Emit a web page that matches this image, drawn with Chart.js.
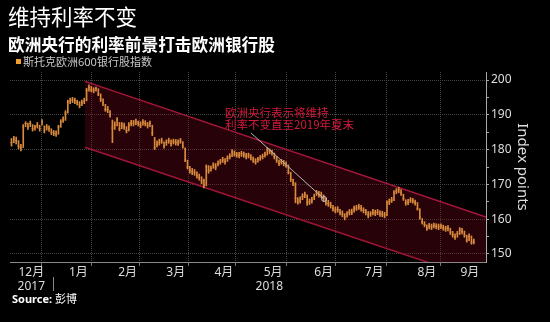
<!DOCTYPE html>
<html><head><meta charset="utf-8">
<script src="https://cdn.jsdelivr.net/npm/chart.js@4.4.1/dist/chart.umd.min.js"></script>
<style>
html,body{margin:0;padding:0;background:#000;}
#wrap{position:relative;width:550px;height:322px;background:#000;overflow:hidden;font-family:"Noto Sans","Noto Sans CJK SC",sans-serif;}
#c{position:absolute;left:0;top:0;}
.t1{position:absolute;left:8px;top:3px;font-size:21.5px;line-height:26px;color:#fff;font-family:"Noto Sans CJK SC",sans-serif;white-space:nowrap;}
.t2{position:absolute;left:8px;top:34px;font-size:16.7px;line-height:20px;color:#fff;font-weight:bold;font-family:"Noto Sans CJK SC",sans-serif;white-space:nowrap;}
.lg{position:absolute;left:23px;top:55px;font-size:11px;line-height:14px;color:#c8c8c8;white-space:nowrap;}
.sq{position:absolute;left:16px;top:59px;width:5px;height:5px;background:#f0a030;}
.src{position:absolute;left:12px;top:292px;font-size:11px;line-height:14px;color:#fff;white-space:nowrap;}
.src b{font-weight:bold;}
</style></head>
<body>
<div id="wrap">
<canvas id="c" width="550" height="322"></canvas>
<div class="t1">维持利率不变</div>
<div class="t2">欧洲央行的利率前景打击欧洲银行股</div>
<div class="sq"></div><div class="lg">斯托克欧洲600银行股指数</div>
<div class="src"><b>Source:</b> 彭博</div>
</div>
<script>
// Trading-day index of the first session of each month (Dec 2017 starts at index 0)
const monthStarts = [18, 40, 60, 81, 101, 123, 144, 166, 189];
const monthLabels = ['12月','1月','2月','3月','4月','5月','6月','7月','8月','9月'];
const yearLabels = ['2017', '2018'];
const yTicks = [150,155,160,165,170,175,180,185,190,195,200];

const closes = [
182.0,183.0,182.5,181.0,180.5,186.5,187.5,186.5,187.5,186.0,186.5,187.0,186.0,188.0,185.6,186.5,186.0,185.0,
184.8,184.5,186.5,188.0,188.5,190.5,193.7,194.0,194.3,194.0,193.5,192.8,193.5,194.0,197.0,197.8,197.2,197.0,197.5,196.0,194.5,193.4,
191.5,191.5,190.0,186.2,187.0,188.5,186.0,187.0,186.5,185.5,187.0,187.6,187.6,188.0,187.5,187.0,187.8,187.5,187.0,187.5,
184.8,180.5,181.5,182.0,182.5,181.0,182.0,182.5,181.8,182.3,182.0,182.0,182.5,181.0,177.0,175.0,174.0,173.6,173.3,172.5,172.0,
171.0,169.8,175.0,174.0,174.5,175.5,175.0,176.0,176.5,177.0,176.5,177.5,178.0,179.3,178.8,178.5,178.4,178.8,178.5,178.0,
178.4,177.8,177.0,176.5,177.2,177.6,178.0,178.5,179.9,179.5,179.0,178.0,177.0,176.0,176.5,176.0,175.6,173.5,171.5,170.4,166.0,165.0,
165.5,166.5,167.0,164.7,165.0,165.5,166.5,167.5,167.0,167.0,166.0,164.7,164.5,164.0,163.0,162.6,162.8,162.0,161.5,160.6,161.5,
162.0,162.0,163.0,163.2,163.5,163.0,162.5,162.0,161.2,161.5,162.0,161.8,162.0,161.5,161.5,161.2,164.7,165.0,165.5,167.5,168.0,168.4,
167.5,166.0,164.7,165.0,165.5,165.2,164.7,163.0,160.6,159.2,158.5,157.5,158.0,157.8,158.2,158.0,157.8,158.0,157.5,157.2,157.5,156.3,155.5,
154.9,155.8,156.9,156.5,155.5,154.0,155.0,153.4,153.5
];
const highs = [
183.2,183.8,183.6,182.6,181.5,187.2,188.0,187.6,188.2,187.2,187.0,187.8,187.0,188.6,186.8,187.2,186.8,186.0,
185.5,185.4,187.0,188.6,189.4,191.2,194.2,194.8,195.0,194.8,194.2,193.8,194.2,194.8,197.6,198.6,198.2,197.8,198.0,197.5,196.0,194.6,
193.0,192.4,191.2,188.5,188.0,189.2,187.8,187.8,187.6,186.6,187.8,188.4,188.4,188.8,188.2,188.0,188.6,188.3,187.8,188.2,
187.0,183.5,182.5,183.0,183.3,182.2,182.8,183.3,182.8,183.0,182.9,182.8,183.2,182.3,180.5,177.0,175.2,174.6,174.3,173.6,173.0,
172.2,171.5,175.6,175.4,175.3,176.2,176.0,176.8,177.2,177.8,177.4,178.2,178.8,180.0,179.6,179.2,179.2,179.5,179.3,178.9,
179.0,178.6,177.9,177.4,177.8,178.3,178.7,179.3,180.6,180.2,179.8,179.0,178.0,177.0,177.2,176.9,176.5,175.6,173.5,171.5,170.5,166.2,
166.4,167.3,167.8,167.0,165.8,166.3,167.2,168.3,168.0,167.8,167.0,166.0,165.4,164.9,164.0,163.5,163.6,162.8,162.4,161.6,162.2,
162.8,162.9,163.8,164.0,164.3,164.0,163.3,162.8,162.2,162.2,162.8,162.6,162.8,162.4,162.3,162.0,165.3,165.8,166.3,168.2,168.8,169.2,
168.5,167.2,165.6,165.7,166.2,166.0,165.5,164.8,163.0,160.2,159.3,158.4,158.8,158.6,158.9,158.7,158.6,158.7,158.3,158.0,158.2,157.4,156.5,
155.8,156.5,157.6,157.4,156.6,155.4,155.8,155.2,154.3
];
const lows = [
181.0,182.0,181.6,180.2,179.6,180.6,186.6,185.8,186.6,185.3,185.6,186.2,185.3,187.0,184.8,185.6,185.2,184.3,
184.0,183.8,184.4,186.4,187.8,188.4,190.5,193.2,193.5,193.2,192.8,192.0,192.6,193.2,194.0,196.8,196.6,196.3,196.8,195.5,193.8,192.6,
191.0,190.6,189.3,182.0,185.8,186.8,185.4,186.0,185.8,184.8,185.4,186.8,186.8,187.2,186.8,186.3,187.0,186.8,186.2,186.6,
184.0,180.0,180.8,181.3,181.8,180.4,181.2,181.8,181.0,181.6,181.3,181.2,181.8,180.4,176.5,174.4,173.2,172.8,172.6,171.8,171.2,
170.2,169.0,169.6,173.2,173.8,174.6,174.2,175.3,175.8,176.3,175.8,176.6,177.3,178.0,178.1,177.8,177.6,178.0,177.8,177.3,
177.6,177.0,176.3,175.8,176.4,176.9,177.3,177.8,178.4,178.8,178.4,177.3,176.3,175.4,175.8,175.3,174.9,173.0,170.8,169.6,164.7,164.3,
164.6,165.6,166.2,164.0,164.2,164.6,165.6,166.8,166.3,166.2,165.3,164.0,163.7,163.2,162.3,161.8,162.0,161.2,160.7,159.8,160.6,
161.2,161.3,162.0,162.5,162.8,162.3,161.8,161.2,160.4,160.8,161.2,161.0,161.3,160.8,160.7,160.4,161.0,164.2,164.8,165.3,167.3,167.6,
166.8,165.4,164.0,164.2,164.8,164.6,164.0,162.6,160.0,158.6,157.8,156.8,157.2,157.0,157.5,157.2,157.0,157.3,156.8,156.5,156.6,155.6,154.8,
154.2,154.8,155.6,155.8,154.8,153.4,153.8,152.8,152.9
];
// Trend channel (trading-day index, index value)
const channelX = [31.3, 202.2];
const channelUpper = [199.6, 160.6];
const channelLower = [180.7, 142.0];
// Annotation
const noteLines = ['欧洲央行表示将维持', '利率不变直至2019年夏末'];
const noteAnchor = {x: 91, y: [190.5, 187.1]};
const pointerX = [102, 133.2];
const pointerY = [184.8, 165.8];

const X_MIN = -0.64, X_MAX = 202.2;
const boundaries = monthStarts.map(v => v - 0.5);
const edges = [X_MIN, ...boundaries, X_MAX];
const labelMap = new Map();
monthLabels.forEach((m, i) => {
  const mid = (edges[i] + edges[i + 1]) / 2;
  labelMap.set(mid, i === 0 ? [m, yearLabels[0]] : m);
});
const year2Pos = (boundaries[0] + X_MAX) / 2;
labelMap.set(year2Pos, ['', yearLabels[1]]);
const boundarySet = new Set(boundaries);

const ORANGE = '#d98a3c';
const GRID = '#444444';
Chart.defaults.font.family = '"Noto Sans", "Noto Sans CJK SC", sans-serif';

const overlay = {
  id: 'overlay',
  afterDraw(chart) {
    const {ctx, scales: {x, y}, chartArea: a} = chart;
    ctx.save();
    ctx.fillStyle = '#d8193d';
    ctx.font = '11.5px "Noto Sans CJK SC", sans-serif';
    ctx.textBaseline = 'middle';
    ctx.textAlign = 'left';
    noteLines.forEach((t, k) => ctx.fillText(t, x.getPixelForValue(noteAnchor.x), y.getPixelForValue(noteAnchor.y[k])));
    const bx = Math.round(x.getPixelForValue(boundaries[0])) + 0.5;
    ctx.strokeStyle = '#888'; ctx.lineWidth = 1;
    ctx.beginPath(); ctx.moveTo(bx, a.bottom + 15); ctx.lineTo(bx, a.bottom + 29); ctx.stroke();
    ctx.translate(522, (a.top + a.bottom) / 2);
    ctx.rotate(Math.PI / 2);
    ctx.fillStyle = '#dddddd';
    ctx.font = '15px "Noto Sans", sans-serif';
    ctx.textAlign = 'center';
    ctx.fillText('Index points', 0, 0);
    ctx.restore();
  }
};

new Chart(document.getElementById('c'), {
  data: {
    datasets: [
      {type: 'line', data: channelX.map((v, i) => ({x: v, y: channelUpper[i]})), borderColor: '#a9163c', borderWidth: 1.5,
       pointRadius: 0, fill: '+1', backgroundColor: 'rgba(120,10,28,0.32)', order: 10},
      {type: 'line', data: channelX.map((v, i) => ({x: v, y: channelLower[i]})), borderColor: '#a9163c', borderWidth: 1.5,
       pointRadius: 0, fill: false, order: 10},
      {type: 'bar', data: closes.map((c, i) => ({x: i, y: [lows[i], highs[i]]})), backgroundColor: ORANGE,
       borderWidth: 0, barThickness: 1, grouped: false, order: 2},
      {type: 'line', data: closes.map((c, i) => ({x: i, y: c})), showLine: false, pointStyle: 'line',
       pointRadius: 1, borderColor: ORANGE, borderWidth: 1, pointHoverRadius: 0, order: 1},
      {type: 'line', data: pointerX.map((v, i) => ({x: v, y: pointerY[i]})), borderColor: '#b5b5b5', borderWidth: 1,
       pointRadius: [0, 2.5], pointBorderColor: '#c8c8c8', pointBackgroundColor: 'rgba(0,0,0,0)', pointBorderWidth: 1, order: 0}
    ]
  },
  options: {
    responsive: false, animation: false, devicePixelRatio: 1,
    layout: {padding: {top: 72, left: 10, right: 0, bottom: 0}},
    plugins: {legend: {display: false}, tooltip: {enabled: false}},
    events: [],
    scales: {
      x: {
        type: 'linear', min: X_MIN, max: X_MAX, offset: false,
        afterBuildTicks: s => { s.ticks = [...boundaries, ...labelMap.keys()].sort((a, b) => a - b).map(v => ({value: v})); },
        afterFit: s => { s.height = 60; },
        ticks: {autoSkip: false, maxRotation: 0, minRotation: 0, padding: 0, color: '#dddddd',
          font: {size: 12, lineHeight: 1.15},
          callback: v => labelMap.has(v) ? labelMap.get(v) : ''},
        grid: {color: c => (c.tick && boundarySet.has(c.tick.value)) ? GRID : 'rgba(0,0,0,0)',
               tickColor: c => (c.tick && boundarySet.has(c.tick.value)) ? '#777' : 'rgba(0,0,0,0)',
               tickLength: 4, lineWidth: 1},
        border: {color: '#888', width: 1, dash: [1, 1]}
      },
      y: {
        type: 'linear', position: 'right', min: 147.7, max: 202.3,
        afterBuildTicks: s => { s.ticks = yTicks.map(v => ({value: v})); },
        afterFit: s => { s.width = 64; },
        ticks: {padding: 2, color: '#dddddd', font: {size: 12},
          callback: v => v % 10 === 0 ? String(v) : ''},
        grid: {color: c => (c.tick && c.tick.value % 10 === 0) ? GRID : 'rgba(0,0,0,0)',
               tickColor: '#aaa', tickLength: 3, lineWidth: 1},
        border: {color: '#aaa', width: 1, dash: [1, 1]}
      }
    }
  },
  plugins: [overlay]
});
</script>
</body></html>
